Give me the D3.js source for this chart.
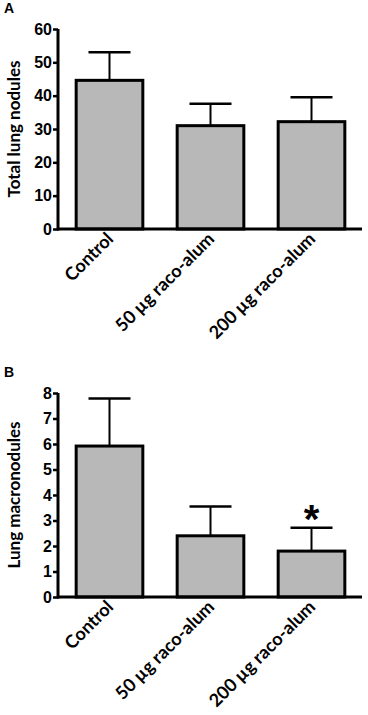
<!DOCTYPE html>
<html>
<head>
<meta charset="utf-8">
<style>
	body { margin: 0; background: white; }
	svg { display: block; }
	.tick text { font-family: 'Liberation Sans', Arial, sans-serif; font-weight: bold; font-size: 16px; fill: #000; }
	.lbl { font-family: Lato, 'Open Sans', sans-serif; font-weight: bold; font-size: 18px; }
</style>
</head>
<body>
<svg width="368" height="715"></svg>
<script src="https://d3js.org/d3.v7.min.js"></script>
<script>
	// groups shared by both panels
	let groups = ['Control', '50 µg raco-alum', '200 µg raco-alum']

	// panel A: total lung nodules (mean + upper error)
	let totalMeans = [44.6, 31, 32.2]
	let totalErr = [53, 37.6, 39.5]
	let totalTicks = [0, 10, 20, 30, 40, 50, 60]

	// panel B: lung macronodules
	let macroMeans = [5.92, 2.4, 1.8]
	let macroErr = [7.78, 3.55, 2.72]
	let macroTicks = [0, 1, 2, 3, 4, 5, 6, 7, 8]
	let macroSig = ['', '', '*']

	let svg = d3.select('svg')

	function panel(opts) {
		let g = svg.append('g')

		let x = d3.scaleBand()
			.domain(groups)
			.range([59, 362])
			.paddingInner(0.34)
			.paddingOuter(0.17)

		let y = d3.scaleLinear()
			.domain([0, opts.max])
			.range([opts.bottom, opts.top])

		// panel letter
		g.append('text')
			.attr('x', 4)
			.attr('y', opts.top - 16)
			.style('font-family', 'Liberation Sans, Arial, sans-serif')
			.style('font-weight', 'bold')
			.style('font-size', '14px')
			.text(opts.letter)

		// error bars behind the bars
		let err = g.append('g')
		groups.forEach((grp, i) => {
			let cx = x(grp) + x.bandwidth() / 2
			err.append('line')
				.attr('x1', cx).attr('x2', cx)
				.attr('y1', y(opts.means[i])).attr('y2', y(opts.err[i]))
				.style('stroke', '#000').style('stroke-width', 2)
			err.append('line')
				.attr('x1', cx - 21).attr('x2', cx + 21)
				.attr('y1', y(opts.err[i])).attr('y2', y(opts.err[i]))
				.style('stroke', '#000').style('stroke-width', 2.5)
		})

		g.append('g')
			.selectAll('rect')
			.data(groups)
			.join('rect')
			.attr('x', d => x(d))
			.attr('width', x.bandwidth())
			.attr('y', (d, i) => y(opts.means[i]))
			.attr('height', (d, i) => opts.bottom - y(opts.means[i]))
			.style('fill', '#b8b8b8')
			.style('stroke', '#000')
			.style('stroke-width', 3)

		if (opts.sig) {
			g.append('g')
				.selectAll('text')
				.data(groups)
				.join('text')
				.attr('x', d => x(d) + x.bandwidth() / 2)
				.attr('y', (d, i) => y(opts.err[i]) + 5)
				.attr('text-anchor', 'middle')
				.style('font-family', 'Liberation Sans, Arial, sans-serif')
				.style('font-weight', 'bold')
				.style('font-size', '40px')
				.text((d, i) => opts.sig[i])
		}

		// y axis
		let yAxis = g.append('g')
			.attr('transform', 'translate(58,0)')
			.call(d3.axisLeft(y).tickValues(opts.ticks).tickSize(5).tickPadding(1))
		yAxis.select('.domain').style('stroke-width', 3).attr('d', `M0,${opts.top}V${opts.bottom + 1.5}`)
		yAxis.selectAll('.tick line').style('stroke-width', 2.5)

		// x baseline
		g.append('line')
			.attr('x1', 57).attr('x2', 362)
			.attr('y1', opts.bottom).attr('y2', opts.bottom)
			.style('stroke', '#000').style('stroke-width', 3)

		// category labels, rotated
		g.append('g')
			.selectAll('text')
			.data(groups)
			.join('text')
			.attr('class', 'lbl')
			.attr('text-anchor', 'end')
			.attr('transform', d => `translate(${x(d) + x.bandwidth() / 2 + 5},${opts.bottom + 11}) rotate(-45)`)
			.text(d => d)

		// y title
		g.append('text')
			.attr('class', 'lbl')
			.attr('text-anchor', 'middle')
			.style('font-size', '17px')
			.attr('transform', `translate(20,${(opts.top + opts.bottom) / 2}) rotate(-90)`)
			.text(opts.title)
	}

	panel({ letter: 'A', top: 29, bottom: 229, max: 60, ticks: totalTicks,
		means: totalMeans, err: totalErr, title: 'Total lung nodules' })

	panel({ letter: 'B', top: 393, bottom: 597, max: 8, ticks: macroTicks,
		means: macroMeans, err: macroErr, sig: macroSig, title: 'Lung macronodules' })
</script>
</body>
</html>
